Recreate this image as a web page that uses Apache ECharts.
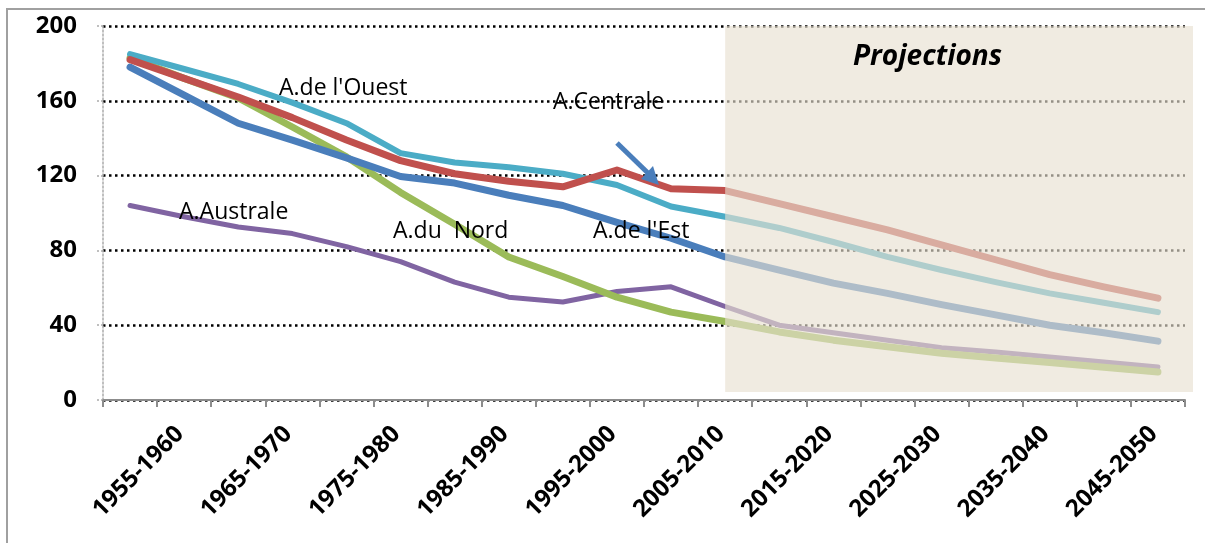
<!DOCTYPE html>
<html>
<head>
<meta charset="utf-8">
<script src="https://cdn.jsdelivr.net/npm/echarts@6/dist/echarts.min.js"></script>
<style>
html,body{margin:0;padding:0;background:#fff;}
#c{width:1205px;height:543px;}
</style>
</head>
<body>
<div id="c"></div>
<script>
var categories = ['1950-1955','1955-1960','1960-1965','1965-1970','1970-1975','1975-1980','1980-1985','1985-1990','1990-1995','1995-2000','2000-2005','2005-2010','2010-2015','2015-2020','2020-2025','2025-2030','2030-2035','2035-2040','2040-2045','2045-2050'];
var centrale = [182,172,162,151,139,128,121,117,114,123,113,112,105,98,91,83,75,67,60.5,54.5];
var ouest    = [185,177,169,159,148,132,127,124.5,121,115,103.5,98,92,84.5,76.5,69.5,63,57,52,47];
var est      = [178,163,148,139,129.5,119.5,116,109.5,104,95,86.5,76.5,69.5,62.5,57,51,45.5,40,36,31.5];
var nord     = [183,172,161.5,146,130,111,94,76.5,66,55,47,42,36.4,32,28.5,25,22.5,20,17.5,15];
var australe = [104,98,92.5,89,82,74,63,55,52.4,58,60.5,50,40,36,32,28,25.7,23,20.3,17.6];
var yTicks = [0,40,80,120,160,200];
var projectionStart = '2005-2010';

var FONT = '"Open Sans", "Noto Sans", sans-serif';
var chart = echarts.init(document.getElementById('c'), null, {renderer:'canvas'});

function lineSeries(name, data, color, width) {
  return {
    name: name, type: 'line', data: data, showSymbol: false, symbol: 'none',
    z: 2,
    lineStyle: {color: color, width: width, cap: 'round', join: 'round'},
    itemStyle: {color: color}
  };
}

var series = [
  lineSeries('A.Australe', australe, '#8064a2', 5),
  lineSeries('A.du Nord', nord, '#9bbb59', 7),
  lineSeries('A.de l\'Est', est, '#4a7ebb', 7),
  lineSeries('A.de l\'Ouest', ouest, '#4bacc6', 6),
  lineSeries('A.Centrale', centrale, '#c0504d', 7)
];
series[4].markArea = {
  z: 5,
  silent: true,
  itemStyle: {color: 'rgba(231,223,208,0.64)'},
  data: [[{xAxis: projectionStart, yAxis: yTicks[yTicks.length-1]}, {x: 1193, y: 392}]]
};

chart.setOption({
  animation: false,
  grid: {left: 103, right: 20, top: 26, bottom: 143, containLabel: false},
  xAxis: {
    type: 'category', data: categories, boundaryGap: true,
    axisLine: {show: true, lineStyle: {color: '#8c8c8c', width: 2}},
    axisTick: {show: true, interval: 0, alignWithLabel: false, length: 7, lineStyle: {color: '#8c8c8c', width: 2}},
    axisLabel: {
      interval: function (i) { return i % 2 === 1; },
      rotate: 45, margin: 26, color: '#000', fontFamily: FONT, fontWeight: 'bold', fontSize: 24,
      padding: [0, 6, 0, 0]
    },
    splitLine: {show: false}
  },
  yAxis: {
    type: 'value', min: 0, max: 200, interval: 40,
    axisLine: {show: true, lineStyle: {color: '#aaaaaa', width: 1.5, type: [2, 2]}},
    axisTick: {show: true, length: 8, lineStyle: {color: '#aaaaaa', width: 1.5, type: [2, 2]}},
    axisLabel: {margin: 26, color: '#000', fontFamily: FONT, fontWeight: 'bold', fontSize: 24},
    splitLine: {show: true, lineStyle: {color: '#000', width: 2.5, type: [2.5, 3.5]}}
  },
  series: series,
  graphic: [
    {type: 'rect', shape: {x: 7, y: 9, width: 1300, height: 600}, style: {fill: 'none', stroke: '#a0a0a0', lineWidth: 2}, z: 0, silent: true},
    {type: 'text', left: 279, top: 77, z: 50, style: {text: 'A.de l\'Ouest', font: '23px ' + FONT, fill: '#000'}},
    {type: 'text', left: 553, top: 91, z: 50, style: {text: 'A.Centrale', font: '23px ' + FONT, fill: '#000'}},
    {type: 'text', left: 179, top: 201, z: 50, style: {text: 'A.Australe', font: '23px ' + FONT, fill: '#000'}},
    {type: 'text', left: 393, top: 220, z: 50, style: {text: 'A.du  Nord', font: '23px ' + FONT, fill: '#000'}},
    {type: 'text', left: 593, top: 220, z: 50, style: {text: 'A.de l\'Est', font: '23px ' + FONT, fill: '#000'}},
    {type: 'text', left: 853, top: 43, z: 50, style: {text: 'Projections', font: 'italic bold 28px ' + FONT, fill: '#000'}},
    {type: 'line', z: 50, shape: {x1: 617, y1: 143, x2: 650, y2: 175}, style: {stroke: '#4a7ebb', lineWidth: 5}},
    {type: 'polygon', z: 50, shape: {points: [[659, 185], [641, 179], [653, 166]]}, style: {fill: '#4a7ebb'}}
  ]
});
</script>
</body>
</html>
